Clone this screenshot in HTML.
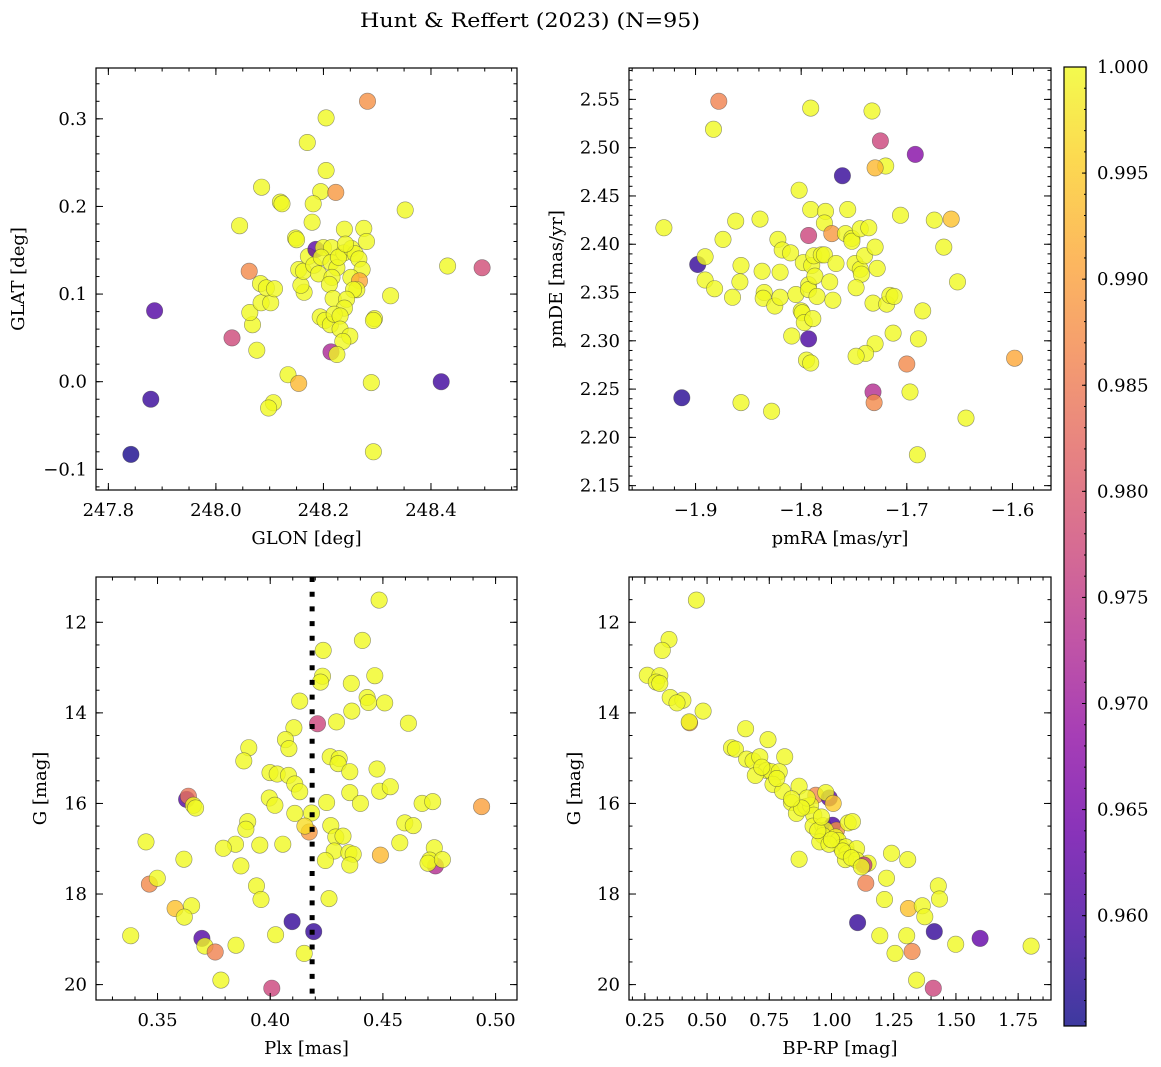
<!DOCTYPE html>
<html><head><meta charset="utf-8"><title>Hunt & Reffert (2023)</title>
<style>
html,body{margin:0;padding:0;background:#fff;}
svg{display:block;font-family:"DejaVu Serif","Liberation Serif",serif;}
</style></head>
<body>
<svg id="fig" width="1161" height="1067" viewBox="0 0 1161 1067" xmlns="http://www.w3.org/2000/svg">
<defs>
<linearGradient id="plasma" x1="0" y1="1" x2="0" y2="0">
<stop offset="0" stop-color="#0d0887"/><stop offset="0.1" stop-color="#41049d"/><stop offset="0.2" stop-color="#6a00a8"/><stop offset="0.3" stop-color="#8f0da4"/><stop offset="0.4" stop-color="#b12a90"/><stop offset="0.5" stop-color="#cc4778"/><stop offset="0.6" stop-color="#e16462"/><stop offset="0.7" stop-color="#f2844b"/><stop offset="0.8" stop-color="#fca636"/><stop offset="0.9" stop-color="#fcce25"/><stop offset="1" stop-color="#f0f921"/>
</linearGradient>
</defs>
<text x="530" y="27" text-anchor="middle" font-size="20" textLength="340" lengthAdjust="spacingAndGlyphs">Hunt &amp; Reffert (2023) (N=95)</text>
</svg>
<script>
// ---- Panel 1: GLON vs GLAT ----
const p1x=[247.842,247.879,247.886,248.030,248.062,248.044,248.085,248.120,248.123,248.170,248.205,248.282,248.205,248.195,248.223,248.181,248.179,248.148,248.150,248.239,248.275,248.280,248.352,248.431,248.495,248.419,248.289,248.293,248.295,248.293,248.325,248.134,248.154,248.107,248.098,248.076,248.068,248.063,248.084,248.102,248.083,248.094,248.109,248.164,248.158,248.154,248.163,248.172,248.182,248.186,248.200,248.215,248.196,248.191,248.214,248.225,248.216,248.211,248.238,248.228,248.252,248.259,248.266,248.272,248.251,248.267,248.262,248.256,248.218,248.243,248.239,248.194,248.203,248.213,248.220,248.231,248.231,248.249,248.236,248.214,248.225,248.241];
const p1y=[-0.083,-0.020,0.081,0.050,0.126,0.178,0.222,0.205,0.203,0.273,0.301,0.320,0.241,0.217,0.216,0.203,0.182,0.164,0.162,0.174,0.175,0.160,0.196,0.132,0.130,0.000,-0.001,-0.080,0.072,0.070,0.098,0.008,-0.002,-0.024,-0.030,0.036,0.065,0.079,0.090,0.090,0.112,0.107,0.106,0.102,0.110,0.128,0.126,0.143,0.133,0.151,0.153,0.153,0.142,0.123,0.136,0.130,0.119,0.111,0.147,0.142,0.152,0.146,0.140,0.128,0.119,0.115,0.105,0.105,0.095,0.094,0.084,0.074,0.070,0.065,0.077,0.075,0.060,0.052,0.046,0.034,0.031,0.157];
const p1c=[0.9557,0.9584,0.961,0.9774,0.987,1,1,1,1,1,1,0.988,1,1,0.989,1,1,1,1,1,1,1,1,1,0.978,0.959,1,1,1,1,1,1,0.993,1,1,1,1,1,1,1,1,1,1,1,1,1,1,1,1,0.962,1,1,1,1,1,1,1,1,1,1,1,1,1,1,1,0.991,1,1,1,1,1,1,1,1,1,1,1,1,1,0.972,1,1];
// ---- Panel 2: pmRA vs pmDE ----
const p2x=[-1.878,-1.883,-1.791,-1.733,-1.725,-1.692,-1.720,-1.730,-1.761,-1.802,-1.930,-1.898,-1.891,-1.874,-1.862,-1.839,-1.791,-1.777,-1.778,-1.756,-1.793,-1.771,-1.758,-1.752,-1.752,-1.744,-1.736,-1.706,-1.674,-1.658,-1.665,-1.652,-1.685,-1.713,-1.689,-1.730,-1.739,-1.748,-1.700,-1.598,-1.697,-1.732,-1.731,-1.644,-1.690,-1.913,-1.857,-1.828,-1.809,-1.793,-1.795,-1.791,-1.891,-1.882,-1.865,-1.858,-1.857,-1.837,-1.835,-1.836,-1.825,-1.820,-1.820,-1.822,-1.818,-1.810,-1.805,-1.800,-1.799,-1.797,-1.789,-1.798,-1.793,-1.793,-1.790,-1.788,-1.787,-1.785,-1.781,-1.778,-1.773,-1.770,-1.767,-1.749,-1.744,-1.743,-1.740,-1.730,-1.728,-1.748,-1.732,-1.719,-1.716,-1.712];
const p2y=[2.548,2.519,2.541,2.538,2.507,2.493,2.481,2.479,2.471,2.456,2.417,2.379,2.387,2.405,2.424,2.426,2.436,2.434,2.422,2.436,2.409,2.411,2.411,2.406,2.403,2.416,2.417,2.430,2.425,2.426,2.397,2.361,2.331,2.308,2.302,2.297,2.287,2.284,2.276,2.282,2.247,2.247,2.236,2.220,2.182,2.241,2.236,2.227,2.305,2.302,2.280,2.277,2.363,2.354,2.345,2.361,2.378,2.372,2.350,2.344,2.336,2.345,2.371,2.405,2.394,2.391,2.348,2.331,2.329,2.319,2.323,2.381,2.358,2.353,2.378,2.388,2.367,2.346,2.389,2.389,2.361,2.342,2.380,2.380,2.374,2.369,2.388,2.397,2.375,2.355,2.339,2.338,2.347,2.346];
const p2c=[0.986,1,1,1,0.977,0.967,1,0.993,0.958,1,1,0.958,1,1,1,1,1,1,1,1,0.977,0.989,1,1,1,1,1,1,1,0.994,1,1,1,1,1,1,1,1,0.987,0.991,1,0.973,0.987,1,1,0.957,1,1,1,0.960,1,1,1,1,1,1,1,1,1,1,1,1,1,1,1,1,1,1,1,1,1,1,1,1,1,1,1,1,1,1,1,1,1,1,1,1,1,1,1,1,1,1,1,1];
// ---- Panel 3: Plx vs G ----
const p3x=[0.4483,0.4409,0.4235,0.4232,0.4223,0.4464,0.4360,0.4131,0.4430,0.4436,0.4508,0.4362,0.4294,0.4210,0.4613,0.4105,0.4068,0.4083,0.3905,0.3883,0.4266,0.4306,0.4301,0.3999,0.4031,0.4081,0.4109,0.4131,0.4353,0.4474,0.4353,0.4486,0.4533,0.3996,0.4021,0.3629,0.3637,0.3659,0.3669,0.4109,0.4183,0.4250,0.4400,0.4674,0.4721,0.4938,0.4173,0.4154,0.3900,0.3892,0.4269,0.4291,0.4323,0.4597,0.4635,0.4575,0.4056,0.3954,0.3846,0.3792,0.4284,0.4349,0.4368,0.4353,0.4245,0.4489,0.4733,0.4728,0.4708,0.4700,0.4764,0.3449,0.3617,0.3870,0.3464,0.3499,0.3939,0.3959,0.4261,0.3578,0.3651,0.3619,0.4097,0.4193,0.3381,0.3697,0.3710,0.3756,0.3848,0.4024,0.4151,0.3781,0.4007];
const p3y=[11.51,12.40,12.62,13.19,13.32,13.18,13.35,13.74,13.66,13.77,13.78,13.96,14.20,14.24,14.23,14.33,14.59,14.79,14.77,15.06,14.97,15.01,15.12,15.32,15.35,15.38,15.57,15.74,15.30,15.24,15.76,15.73,15.63,15.88,16.04,15.91,15.84,16.04,16.10,16.22,16.21,15.98,16.00,16.00,15.96,16.07,16.63,16.50,16.40,16.57,16.49,16.74,16.72,16.43,16.49,16.87,16.90,16.92,16.90,16.99,17.05,17.09,17.12,17.36,17.26,17.14,17.38,16.98,17.25,17.32,17.24,16.85,17.23,17.38,17.78,17.65,17.82,18.12,18.10,18.32,18.26,18.51,18.61,18.83,18.92,18.98,19.15,19.28,19.13,18.90,19.31,19.90,20.08];
const p3c=[1,1,1,1,1,1,1,1,1,1,1,1,1,0.977,1,1,1,1,1,1,1,1,1,1,1,1,1,1,1,1,1,1,1,1,1,0.961,0.984,1,1,1,1,1,1,1,1,0.990,0.989,0.997,1,1,1,1,1,1,1,1,1,1,1,1,1,1,1,1,1,0.993,0.973,1,1,1,1,1,1,1,0.987,1,1,1,1,0.994,1,1,0.958,0.958,1,0.961,1,0.986,1,1,1,1,0.977];
// ---- Panel 4: BP-RP vs G ----
const p4x=[0.457,0.347,0.320,0.260,0.310,0.296,0.310,0.352,0.403,0.379,0.484,0.430,0.428,0.655,0.745,0.598,0.614,0.812,0.659,0.685,0.712,0.739,0.759,0.790,0.694,0.765,0.804,0.870,0.937,0.991,0.977,1.007,0.839,0.859,0.897,0.916,0.902,0.929,0.926,0.966,1.004,1.020,0.975,0.966,0.953,1.017,1.027,1.038,1.058,1.063,1.056,1.067,1.084,1.101,1.101,1.147,1.130,0.870,1.241,1.306,1.221,1.138,1.213,1.429,1.434,1.309,1.365,1.375,1.105,1.413,1.194,1.302,1.597,1.499,1.802,1.255,1.324,1.342,1.409,0.880,0.990,1.045,1.080,0.780,0.945,1.000,1.120,0.720,0.840,0.960];
const p4y=[11.51,12.38,12.62,13.17,13.18,13.32,13.35,13.66,13.72,13.78,13.96,14.22,14.20,14.35,14.59,14.77,14.80,14.97,15.02,15.06,14.97,15.27,15.30,15.30,15.38,15.58,15.73,15.62,15.82,15.88,15.76,16.00,15.98,16.22,16.07,16.04,15.88,16.26,16.50,16.49,16.48,16.59,16.59,16.71,16.85,16.74,16.82,16.97,16.96,17.10,17.24,16.43,16.40,17.00,17.25,17.32,17.36,17.23,17.10,17.24,17.65,17.76,18.12,17.82,18.11,18.32,18.26,18.50,18.63,18.83,18.92,18.92,18.98,19.11,19.15,19.31,19.27,19.90,20.08,16.10,16.90,17.05,17.20,15.45,16.60,16.80,17.40,15.20,15.90,16.30];
const p4c=[1,1,1,1,1,1,1,1,1,1,1,0.990,1,1,1,1,1,1,1,1,1,1,1,1,1,1,1,1,0.987,0.962,1,0.995,1,1,1,1,1,1,1,1,0.960,0.988,1,1,1,1,1,1,1,1,1,1,1,1,1,1,0.975,1,1,1,1,0.986,1,1,1,0.994,1,1,0.958,0.958,1,1,0.963,1,1,1,0.987,1,0.977,1,1,1,1,1,1,1,1,1,1,1];
// tick label arrays
const p1xTicks=[247.8,248.0,248.2,248.4];
const p1yTicks=[-0.1,0.0,0.1,0.2,0.3];
const p2xTicks=[-1.9,-1.8,-1.7,-1.6];
const p2yTicks=[2.15,2.20,2.25,2.30,2.35,2.40,2.45,2.50,2.55];
const p3xTicks=[0.35,0.40,0.45,0.50];
const gTicks=[12,14,16,18,20];
const p4xTicks=[0.25,0.50,0.75,1.00,1.25,1.50,1.75];
const cbTicks=[0.960,0.965,0.970,0.975,0.980,0.985,0.990,0.995,1.000];
const plxLine=[0.4186];

const NS="http://www.w3.org/2000/svg";
const svg=document.getElementById('fig');
const CMIN=0.9548,CMAX=1.0;
const stops=[[13,8,135],[65,4,157],[106,0,168],[143,13,164],[177,42,144],[204,71,120],[225,100,98],[242,132,75],[252,166,54],[252,206,37],[240,249,33]];
function plasma(v){let t=(v-CMIN)/(CMAX-CMIN);t=Math.max(0,Math.min(1,t));const f=t*10;const i=Math.min(9,Math.floor(f));const r=f-i;const a=stops[i],b=stops[i+1];return 'rgb('+[0,1,2].map(k=>Math.round(a[k]+(b[k]-a[k])*r)).join(',')+')';}
function el(tag,attrs,parent){const e=document.createElementNS(NS,tag);for(const k in attrs)e.setAttribute(k,attrs[k]);(parent||svg).appendChild(e);return e;}
function fmt(v,d){const s=Math.abs(v).toFixed(d);return (v<0?'\u2212':'')+s;}

function panel(name,box,xd,yd,xt,yt,xdec,ydec,xminor,yminor,xs,ys,cs,xlabel,ylabel,ylabelX){
  const g=el('g',{});
  
  
  const sx=v=>box.x0+(v-xd[0])/(xd[1]-xd[0])*(box.x1-box.x0);
  const sy=v=>box.y0+(v-yd[0])/(yd[1]-yd[0])*(box.y1-box.y0);
  const clip='clip-'+name;
  const cp=el('clipPath',{id:clip},g);el('rect',{x:box.x0,y:box.y0,width:box.x1-box.x0,height:box.y1-box.y0},cp);
  const pts=el('g',{'clip-path':'url(#'+clip+')'},g);
  
  
  for(let i=0;i<xs.length;i++){
    const c=el('circle',{cx:sx(xs[i]).toFixed(1),cy:sy(ys[i]).toFixed(1),r:8.2,fill:plasma(cs[i]),'fill-opacity':0.8,stroke:'rgba(60,60,60,0.55)','stroke-width':0.6},pts);
    
    
  }
  if(name==='plx-panel'){
    const ln=el('line',{x1:sx(plxLine[0]),x2:sx(plxLine[0]),y1:box.y0,y2:box.y1,stroke:'#000','stroke-width':5,'stroke-dasharray':'5 9.7'},g);
    
    
  }
  el('rect',{x:box.x0,y:box.y0,width:box.x1-box.x0,height:box.y1-box.y0,fill:'none',stroke:'#000','stroke-width':1.2},g);
  const ticks=el('g',{stroke:'#000','stroke-width':1},g);
  const xlo=Math.min(...xd),xhi=Math.max(...xd),ylo=Math.min(...yd),yhi=Math.max(...yd);
  for(let k=Math.ceil(xlo/xminor-1e-6);k*xminor<=xhi+1e-9;k++){const v=k*xminor,X=sx(v);el('line',{x1:X,x2:X,y1:box.y1,y2:box.y1-3.5},ticks);el('line',{x1:X,x2:X,y1:box.y0,y2:box.y0+3.5},ticks);}
  for(let k=Math.ceil(ylo/yminor-1e-6);k*yminor<=yhi+1e-9;k++){const v=k*yminor,Y=sy(v);el('line',{x1:box.x0,x2:box.x0+3.5,y1:Y,y2:Y},ticks);el('line',{x1:box.x1,x2:box.x1-3.5,y1:Y,y2:Y},ticks);}
  xt.forEach(v=>{const X=sx(v);el('line',{x1:X,x2:X,y1:box.y1,y2:box.y1-7},ticks);el('line',{x1:X,x2:X,y1:box.y0,y2:box.y0+7},ticks);
    const t=el('text',{x:X,y:box.y1+26,'text-anchor':'middle','font-size':18},g);t.textContent=fmt(v,xdec);
    
    });
  yt.forEach(v=>{const Y=sy(v);el('line',{x1:box.x0,x2:box.x0+7,y1:Y,y2:Y},ticks);el('line',{x1:box.x1,x2:box.x1-7,y1:Y,y2:Y},ticks);
    const t=el('text',{x:box.x0-9,y:Y+6,'text-anchor':'end','font-size':18},g);t.textContent=fmt(v,ydec);
    
    });
  const xl=el('text',{x:(box.x0+box.x1)/2,y:box.y1+54,'text-anchor':'middle','font-size':18},g);xl.textContent=xlabel;
  
  
  const yc=(box.y0+box.y1)/2;
  const yl=el('text',{x:ylabelX,y:yc,'text-anchor':'middle','font-size':18,transform:'rotate(-90 '+ylabelX+' '+yc+')'},g);yl.textContent=ylabel;
  
  
}

panel('position-panel',{x0:96,x1:517,y0:68,y1:490},[247.777,248.560],[0.358,-0.1236],p1xTicks,p1yTicks,1,1,0.05,0.02,p1x,p1y,p1c,'GLON [deg]','GLAT [deg]',24);
panel('proper-motion-panel',{x0:629,x1:1051,y0:68,y1:490},[-1.963,-1.5635],[2.5825,2.1455],p2xTicks,p2yTicks,1,2,0.02,0.01,p2x,p2y,p2c,'pmRA [mas/yr]','pmDE [mas/yr]',562);
panel('plx-panel',{x0:96,x1:517,y0:577,y1:1000},[0.3227,0.5095],[11.0,20.34],p3xTicks,gTicks,2,0,0.01,0.5,p3x,p3y,p3c,'Plx [mas]','G [mag]',46);
panel('cmd-panel',{x0:629,x1:1051,y0:577,y1:1000},[0.1863,1.882],[11.0,20.34],p4xTicks,gTicks,2,0,0.05,0.5,p4x,p4y,p4c,'BP-RP [mag]','G [mag]',580);

// colorbar
const cb=el('g',{});


const cbx0=1064,cbx1=1086,cby0=67,cby1=1026;
el('rect',{x:cbx0,y:cby0,width:cbx1-cbx0,height:cby1-cby0,fill:'url(#plasma)','fill-opacity':0.8},cb);
el('rect',{x:cbx0,y:cby0,width:cbx1-cbx0,height:cby1-cby0,fill:'none',stroke:'#000','stroke-width':1.2},cb);
const cy=v=>cby1-(v-CMIN)/(CMAX-CMIN)*(cby1-cby0);
for(let k=Math.ceil(CMIN/0.001);k<=1000;k++){const Y=cy(k*0.001);el('line',{x1:cbx1,x2:cbx1-2,y1:Y,y2:Y,stroke:'#000','stroke-width':1},cb);}
cbTicks.forEach(v=>{const Y=cy(v);el('line',{x1:cbx1,x2:cbx1-4,y1:Y,y2:Y,stroke:'#000','stroke-width':1},cb);
  const t=el('text',{x:1097,y:Y+6,'font-size':18},cb);t.textContent=v.toFixed(3);
  
  });
</script>
</body></html>
